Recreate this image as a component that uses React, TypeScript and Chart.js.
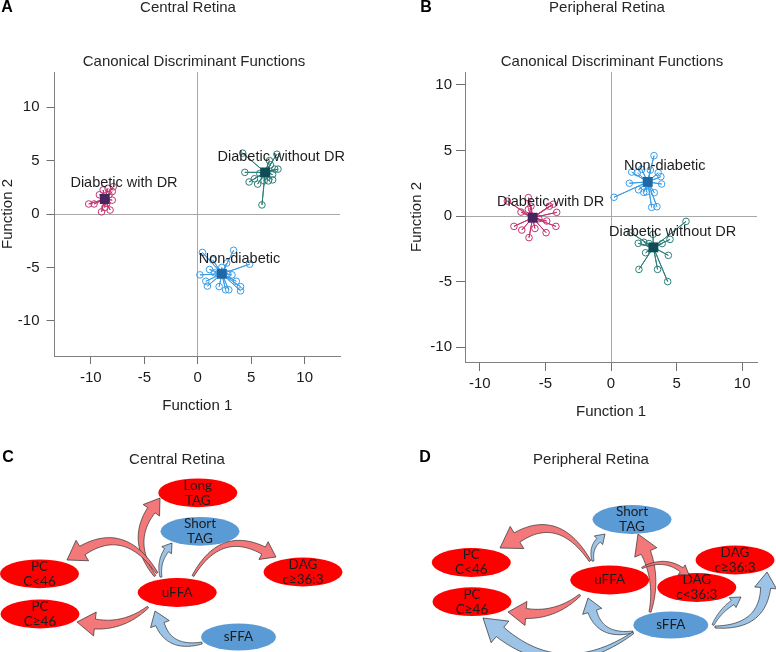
import React, { useEffect, useRef } from 'react';
import { Chart, registerables } from 'chart.js';
Chart.register(...registerables);

const FONT = '"Liberation Sans", Arial, sans-serif';
const NODE_FONT = 'Lato, "Open Sans", sans-serif';

// ---------------- Scatter data (canonical discriminant scores) ----------------
const groupNames = ['Diabetic with DR', 'Diabetic without DR', 'Non-diabetic'];
const pointColors = ['#c4336f', '#2b7f77', '#3a9de6'];
const centroidColors = ['#47255f', '#0f4c57', '#1e68a6'];
const axisTicks = [-10, -5, 0, 5, 10];

// Panel A – Central retina
const centralCentroidX = [-8.7, 6.3, 2.25];
const centralCentroidY = [1.4, 3.9, -5.6];
const centralDrX = [-10.2, -9.7, -9.0, -8.7, -8.2, -8.0, -8.0, -7.9, -8.4, -9.2, -8.85, -8.3, -8.5];
const centralDrY = [0.94, 0.94, 0.2, 0.6, 0.37, 1.3, 2.1, 2.56, 2.4, 1.8, 2.25, 1.8, 1.0];
const centralNoDrX = [4.2, 4.4, 4.8, 5.3, 5.6, 6.0, 7.4, 6.7, 6.8, 7.2, 7.5, 7.0, 6.6, 6.2, 7.0, 5.8];
const centralNoDrY = [5.7, 3.9, 3.0, 3.3, 2.8, 0.85, 5.6, 5.0, 4.6, 4.2, 4.2, 3.7, 3.1, 3.1, 3.2, 3.8];
const centralNonX = [0.43, 0.2, 0.75, 0.9, 1.1, 1.55, 2.0, 2.25, 2.6, 2.9, 3.35, 3.6, 4.0, 4.0, 4.85, 2.7, 1.4, 2.8, 3.2];
const centralNonY = [-3.6, -5.7, -6.3, -6.75, -5.2, -5.5, -6.8, -5.0, -7.1, -7.1, -3.4, -6.3, -6.8, -7.2, -4.7, -4.6, -4.3, -5.6, -5.7];
const centralLabelX = [-6.9, 7.8, 3.9];
const centralLabelY = [2.9, 5.3, -4.2];

// Panel B – Peripheral retina
const periCentroidX = [-5.97, 3.23, 2.8];
const periCentroidY = [-0.13, -2.39, 2.6];
const periDrX = [-6.3, -7.9, -6.86, -7.4, -6.8, -6.25, -5.8, -4.95, -4.9, -4.2, -4.14, -4.7, -6.1, -4.4, -6.3, -5.5];
const periDrY = [1.4, 1.14, 0.3, -0.79, -1.07, -1.65, -0.95, -1.27, -0.38, -0.79, 0.28, 0.75, 0.75, 0.9, 0.5, -0.2];
const periNoDrX = [5.72, 1.5, 2.08, 2.64, 2.13, 3.55, 4.37, 4.32, 4.5, 3.9, 2.9, 3.2, 2.5];
const periNoDrY = [-0.41, -1.27, -2.08, -2.8, -4.07, -4.07, -3.0, -5.0, -1.78, -2.1, -2.1, -1.4, -2.0];
const periNonX = [3.28, 0.23, 1.4, 1.58, 2.34, 3.0, 3.8, 3.86, 2.7, 3.3, 3.1, 3.5, 3.6, 2.1, 2.5, 2.0];
const periNonY = [4.6, 1.43, 2.5, 3.35, 3.56, 3.5, 3.0, 2.44, 1.85, 1.78, 0.66, 0.71, 3.3, 2.0, 1.8, 3.3];
const periLabelX = [-4.6, 4.7, 4.1];
const periLabelY = [1.05, -1.2, 3.8];

// ---------------- Pathway diagrams ----------------
const RED = '#fe0000';
const BLUE = '#5b9bd5';
const RED_ARROW = '#f3787a';
const BLUE_ARROW = '#9dc3e6';

const centralNodeText = ['Long\nTAG', 'Short\nTAG', 'PC\nC<46', 'DAG\nc\u226536:3', 'uFFA', 'PC\nC\u226546', 'sFFA'];
const centralNodeColor = [RED, BLUE, RED, RED, RED, RED, BLUE];
const periNodeText = ['Short\nTAG', 'PC\nC<46', 'DAG\nc\u226536:3', 'uFFA', 'DAG\nc<36:3', 'PC\nC\u226546', 'sFFA'];
const periNodeColor = [BLUE, RED, RED, RED, RED, RED, BLUE];

type Pt = { x: number; y: number };

function groupDatasets(cx: number[], cy: number[], xs: number[][], ys: number[][]) {
  const ds: any[] = [];
  for (let g = 0; g < 3; g++) {
    const star: Pt[] = [];
    xs[g].forEach((x, i) => {
      star.push({ x: cx[g], y: cy[g] });
      star.push({ x, y: ys[g][i] });
    });
    ds.push({
      label: groupNames[g] + ' links', data: star, showLine: true, borderColor: pointColors[g],
      borderWidth: 1, pointRadius: 0, tension: 0, fill: false, order: 3,
    });
    ds.push({
      label: groupNames[g], data: xs[g].map((x, i) => ({ x, y: ys[g][i] })), pointStyle: 'circle',
      pointRadius: 3.3, borderColor: pointColors[g], backgroundColor: 'rgba(255,255,255,0)',
      borderWidth: 1, order: 2,
    });
    ds.push({
      label: groupNames[g] + ' centroid', data: [{ x: cx[g], y: cy[g] }], pointStyle: 'rect',
      pointRadius: 7, backgroundColor: centroidColors[g], borderColor: centroidColors[g], borderWidth: 0, order: 1,
    });
  }
  return ds;
}

function axis(opts: any) {
  const { min, max, title, horizontal, size, pad, tl } = opts;
  return {
    type: 'linear', min, max,
    afterBuildTicks: (s: any) => { s.ticks = axisTicks.map((v) => ({ value: v })); },
    afterFit: (s: any) => { if (horizontal) s.height = size; else s.width = size; },
    grid: {
      color: (c: any) => (c.tick && c.tick.value === 0 ? '#a8a8a8' : 'rgba(0,0,0,0)'),
      lineWidth: 1, drawTicks: true, tickLength: tl, tickColor: '#707070', tickWidth: 1,
    },
    border: { display: true, color: '#808080', width: 1 },
    ticks: { font: { family: FONT, size: 15 }, color: '#1a1a1a', padding: pad, autoSkip: false, maxRotation: 0 },
    title: { display: true, text: title, font: { family: FONT, size: 15, lineHeight: 1 }, color: '#222', padding: 0 },
  };
}

function scatterConfig(p: any) {
  const labelPlugin = {
    id: 'panelText',
    afterDatasetsDraw(chart: any) {
      const { ctx, scales } = chart;
      ctx.save();
      ctx.fillStyle = '#1e1e1e';
      ctx.font = `14.5px ${FONT}`;
      ctx.textAlign = 'center';
      ctx.textBaseline = 'middle';
      for (let g = 0; g < 3; g++) {
        ctx.fillText(groupNames[g], scales.x.getPixelForValue(p.labelX[g]), scales.y.getPixelForValue(p.labelY[g]));
      }
      ctx.restore();
    },
    afterDraw(chart: any) {
      const { ctx } = chart;
      ctx.save();
      ctx.textBaseline = 'middle';
      ctx.textAlign = 'center';
      ctx.fillStyle = '#000';
      ctx.font = `bold 16px ${FONT}`;
      ctx.fillText(p.letter, p.letterX, 8);
      ctx.fillStyle = '#262626';
      ctx.font = `15px ${FONT}`;
      ctx.fillText(p.title, p.titleX, 8);
      ctx.fillText('Canonical Discriminant Functions', p.subX, 62);
      ctx.restore();
    },
  };
  return {
    type: 'scatter',
    data: { datasets: groupDatasets(p.cx, p.cy, p.xs, p.ys) },
    options: {
      responsive: false, animation: false,
      layout: { padding: p.padding },
      plugins: { legend: { display: false }, tooltip: { enabled: false }, title: { display: false } },
      scales: {
        x: axis({ min: p.xmin, max: p.xmax, title: 'Function 1', horizontal: true, size: p.xh, pad: p.xpad, tl: p.tl }),
        y: axis({ min: p.ymin, max: p.ymax, title: 'Function 2', horizontal: false, size: p.yw, pad: p.ypad, tl: p.tl }),
      },
    },
    plugins: [labelPlugin],
  };
}

// ---------------- Diagram helpers ----------------
function drawArrow(ctx: CanvasRenderingContext2D, S: Pt, E: Pt, a: any, fill: string) {
  const dx = E.x - S.x, dy = E.y - S.y;
  const len = Math.hypot(dx, dy);
  const nx = -dy / len, ny = dx / len;
  const C = { x: (S.x + E.x) / 2 + nx * a.bend, y: (S.y + E.y) / 2 + ny * a.bend };
  let tx = E.x - C.x, ty = E.y - C.y;
  const tlen = Math.hypot(tx, ty);
  tx /= tlen; ty /= tlen;
  const B = { x: E.x - tx * a.hl, y: E.y - ty * a.hl };
  const C2 = { x: C.x - tx * a.hl * 0.5, y: C.y - ty * a.hl * 0.5 };
  const N = 40;
  const left: Pt[] = [], right: Pt[] = [];
  for (let i = 0; i <= N; i++) {
    const t = i / N;
    const u = 1 - t;
    const px = u * u * S.x + 2 * u * t * C2.x + t * t * B.x;
    const py = u * u * S.y + 2 * u * t * C2.y + t * t * B.y;
    let ddx = 2 * u * (C2.x - S.x) + 2 * t * (B.x - C2.x);
    let ddy = 2 * u * (C2.y - S.y) + 2 * t * (B.y - C2.y);
    const dl = Math.hypot(ddx, ddy) || 1;
    ddx /= dl; ddy /= dl;
    const w = a.w0 + (a.w1 - a.w0) * t;
    left.push({ x: px - ddy * w / 2, y: py + ddx * w / 2 });
    right.push({ x: px + ddy * w / 2, y: py - ddx * w / 2 });
  }
  const hx = -ty, hy = tx;
  ctx.beginPath();
  ctx.moveTo(left[0].x, left[0].y);
  left.forEach((q) => ctx.lineTo(q.x, q.y));
  ctx.lineTo(B.x + hx * a.hw / 2, B.y + hy * a.hw / 2);
  ctx.lineTo(E.x, E.y);
  ctx.lineTo(B.x - hx * a.hw / 2, B.y - hy * a.hw / 2);
  for (let i = right.length - 1; i >= 0; i--) ctx.lineTo(right[i].x, right[i].y);
  ctx.closePath();
  ctx.fillStyle = fill;
  ctx.fill();
  ctx.strokeStyle = 'rgba(40,40,40,0.85)';
  ctx.lineWidth = 0.8;
  ctx.stroke();
}

// diagram layout (diagram units == figure pixels)
const centralNodeX = [197.8, 200, 39.5, 303, 177.2, 40, 238.5];
const centralNodeY = [492.8, 531.3, 573.8, 572, 592.5, 614, 637];
const periNodeX = [632, 471.3, 735, 609.7, 696.8, 472, 670.8];
const periNodeY = [519.5, 562.5, 560, 580, 587.5, 601.7, 625];

const centralArrows = [
  { s: [155, 576], e: [160, 498], bend: -24, w0: 2, w1: 9, hw: 20, hl: 15, c: RED_ARROW },
  { s: [161, 577], e: [172, 543], bend: -6, w0: 2, w1: 5, hw: 12, hl: 9, c: BLUE_ARROW },
  { s: [157, 573], e: [67, 560], bend: 38, w0: 2, w1: 10, hw: 24, hl: 18, c: RED_ARROW },
  { s: [193, 576], e: [276, 557], bend: -36, w0: 2, w1: 8, hw: 20, hl: 14, c: RED_ARROW },
  { s: [148, 607], e: [77, 622], bend: -12, w0: 2, w1: 10, hw: 24, hl: 18, c: RED_ARROW },
  { s: [202, 643], e: [155, 611], bend: -20, w0: 2, w1: 9, hw: 20, hl: 14, c: BLUE_ARROW },
];
const periArrows = [
  { s: [590, 561], e: [500, 548], bend: 38, w0: 2, w1: 11, hw: 26, hl: 20, c: RED_ARROW },
  { s: [593, 561], e: [605, 534], bend: -6, w0: 2, w1: 5, hw: 12, hl: 9, c: BLUE_ARROW },
  { s: [650, 612], e: [638, 534], bend: 10, w0: 2, w1: 10, hw: 24, hl: 20, c: RED_ARROW },
  { s: [642, 568], e: [689, 575], bend: -12, w0: 1.5, w1: 5, hw: 12, hl: 9, c: RED_ARROW },
  { s: [580, 595], e: [508, 612], bend: -12, w0: 2, w1: 10, hw: 24, hl: 18, c: RED_ARROW },
  { s: [633, 632], e: [588, 598], bend: -20, w0: 2, w1: 9, hw: 20, hl: 14, c: BLUE_ARROW },
  { s: [633, 633], e: [483, 618], bend: -50, w0: 2, w1: 12, hw: 28, hl: 22, c: BLUE_ARROW },
  { s: [713, 625], e: [741, 597], bend: -4, w0: 2, w1: 5, hw: 12, hl: 10, c: BLUE_ARROW },
  { s: [715, 627], e: [767, 572], bend: 30, w0: 2, w1: 10, hw: 22, hl: 16, c: BLUE_ARROW },
];

function diagramConfig() {
  const plugin = {
    id: 'diagram',
    afterDatasetsDraw(chart: any) {
      const { ctx, scales } = chart;
      const X = (v: number) => scales.x.getPixelForValue(v);
      const Y = (v: number) => scales.y.getPixelForValue(v);
      ctx.save();
      // panel headings
      ctx.textAlign = 'center';
      ctx.textBaseline = 'middle';
      ctx.fillStyle = '#000';
      ctx.font = `bold 16px ${FONT}`;
      ctx.fillText('C', X(8), Y(458));
      ctx.fillText('D', X(425), Y(458));
      ctx.fillStyle = '#262626';
      ctx.font = `15px ${FONT}`;
      ctx.fillText('Central Retina', X(177), Y(460));
      ctx.fillText('Peripheral Retina', X(591), Y(460));

      const drawNodes = (xs: number[], ys: number[], texts: string[], colors: string[]) => {
        xs.forEach((x, i) => {
          const sm = texts[i] === 'sFFA';
          const rx = sm ? 37.5 : 39.5;
          const ry = sm ? 13.4 : 14.4;
          ctx.beginPath();
          ctx.ellipse(X(x), Y(ys[i]), rx, ry, 0, 0, Math.PI * 2);
          ctx.fillStyle = colors[i];
          ctx.fill();
          ctx.fillStyle = '#1c1c1c';
          ctx.font = `13.5px ${NODE_FONT}`;
          const lines = texts[i].split('\n');
          lines.forEach((ln, k) => {
            const off = lines.length === 1 ? 0 : (k === 0 ? -7.5 : 7.5);
            ctx.fillText(ln, X(x), Y(ys[i]) + off);
          });
        });
      };
      const drawArrows = (arrs: any[]) => {
        arrs.forEach((a) => drawArrow(ctx, { x: X(a.s[0]), y: Y(a.s[1]) }, { x: X(a.e[0]), y: Y(a.e[1]) }, a, a.c));
      };
      drawNodes(centralNodeX, centralNodeY, centralNodeText, centralNodeColor);
      drawNodes(periNodeX, periNodeY, periNodeText, periNodeColor);
      drawArrows(centralArrows);
      drawArrows(periArrows);
      ctx.restore();
    },
  };
  return {
    type: 'scatter',
    data: {
      datasets: [
        { label: 'nodes', data: centralNodeX.map((x, i) => ({ x, y: centralNodeY[i] })).concat(periNodeX.map((x, i) => ({ x, y: periNodeY[i] }))), pointRadius: 0 },
      ],
    },
    options: {
      responsive: false, animation: false,
      layout: { padding: 0 },
      plugins: { legend: { display: false }, tooltip: { enabled: false } },
      scales: {
        x: { display: false, min: 0, max: 776 },
        y: { display: false, min: 440, max: 652, reverse: true },
      },
    },
    plugins: [plugin],
  };
}

function ChartCanvas({ config, style, width, height }: any) {
  const ref = useRef<HTMLCanvasElement>(null);
  useEffect(() => {
    const chart = new Chart(ref.current as HTMLCanvasElement, config());
    return () => chart.destroy();
  }, []);
  return <canvas ref={ref} width={width} height={height} style={{ position: 'absolute', width, height, ...style }} />;
}

const panelA = () => scatterConfig({
  cx: centralCentroidX, cy: centralCentroidY,
  xs: [centralDrX, centralNoDrX, centralNonX], ys: [centralDrY, centralNoDrY, centralNonY],
  labelX: centralLabelX, labelY: centralLabelY,
  xmin: -13.4, xmax: 13.3, ymin: -13.3, ymax: 13.3,
  padding: { left: 0, top: 72, right: 48, bottom: 26.5 }, xh: 57.5, yw: 54.5, xpad: 5, ypad: 7, tl: 8,
  letter: 'A', letterX: 7, title: 'Central Retina', titleX: 188, subX: 194,
});

const panelB = () => scatterConfig({
  cx: periCentroidX, cy: periCentroidY,
  xs: [periDrX, periNoDrX, periNonX], ys: [periDrY, periNoDrY, periNonY],
  labelX: periLabelX, labelY: periLabelY,
  xmin: -11.13, xmax: 11.13, ymin: -11.13, ymax: 10.98,
  padding: { left: 21.2, top: 72, right: 19, bottom: 20.5 }, xh: 57.5, yw: 55.8, xpad: 4, ypad: 4, tl: 9,
  letter: 'B', letterX: 38, title: 'Peripheral Retina', titleX: 219, subX: 224,
});

export default function App() {
  return (
    <div style={{ position: 'absolute', left: 0, top: 0, width: 776, height: 652, background: '#fff', overflow: 'hidden' }}>
      <ChartCanvas config={panelA} width={388} height={440} style={{ left: 0, top: 0 }} />
      <ChartCanvas config={panelB} width={388} height={440} style={{ left: 388, top: 0 }} />
      <ChartCanvas config={diagramConfig} width={776} height={212} style={{ left: 0, top: 440 }} />
    </div>
  );
}
